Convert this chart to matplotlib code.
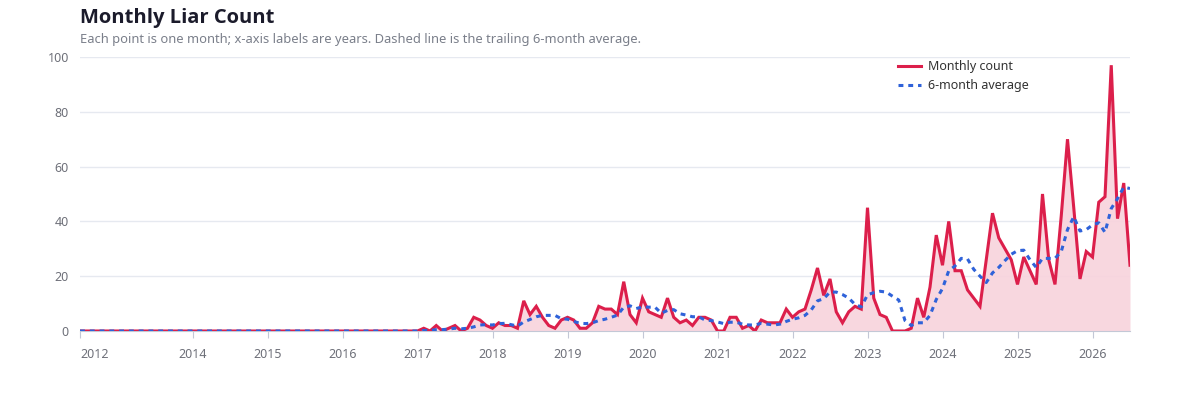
import numpy as np
import matplotlib.pyplot as plt

# meses de 2012-07 ate 2026-07
start_year, start_month = 2012, 7

# contagem mensal (zeros ate dez/2016)
contagem = [0] * 54 + [
    0, 1, 0, 2, 0, 1, 2, 0, 1, 5, 4, 2,          # 2017
    1, 3, 2, 2, 1, 11, 6, 9, 5, 2, 1, 4,         # 2018
    5, 4, 1, 1, 3, 9, 8, 8, 6, 18, 6, 3,         # 2019
    12, 7, 6, 5, 12, 5, 3, 4, 2, 5, 5, 4,        # 2020
    0, 0, 5, 5, 1, 2, 0, 4, 3, 3, 3, 8,          # 2021
    5, 7, 8, 15, 23, 13, 19, 7, 3, 7, 9, 8,      # 2022
    45, 12, 6, 5, 0, 0, 0, 1, 12, 5, 16, 35,     # 2023
    24, 40, 22, 22, 15, 12, 9, 26, 43, 34, 30, 26,  # 2024
    17, 27, 22, 17, 50, 26, 17, 42, 70, 45, 19, 29,  # 2025
    27, 47, 49, 97, 41, 54, 24,                  # 2026
]

# media movel de 6 meses (linha tracejada)
media6 = [0] * 55 + [
    0.2, 0.2, 0.5, 0.5, 0.7, 1.0, 0.8, 1.0, 1.5, 2.2, 2.3,
    2.2, 2.7, 2.8, 2.3, 1.8, 3.3, 4.2, 5.2, 5.7, 5.7, 5.7, 4.5,
    4.3, 3.5, 2.8, 2.7, 3.0, 3.8, 4.3, 5.0, 5.8, 8.7, 9.2, 8.2,
    8.8, 8.7, 8.7, 6.5, 7.5, 7.8, 6.3, 5.8, 5.2, 5.2, 4.0, 3.8,
    3.3, 2.7, 3.2, 3.2, 2.5, 2.2, 2.2, 2.8, 2.5, 2.2, 2.5, 3.5,
    4.3, 4.8, 5.7, 7.7, 11.0, 11.8, 14.2, 14.2, 13.3, 12.0, 9.7, 8.8,
    13.2, 14.0, 14.5, 14.2, 12.7, 11.3, 3.8, 2.0, 3.0, 3.0, 5.7, 11.5,
    15.5, 22.0, 23.7, 26.5, 26.3, 22.5, 20.0, 17.7, 21.2, 23.2, 25.7, 28.0,
    29.3, 29.5, 26.0, 23.2, 26.5, 26.5, 26.5, 29.0, 37.0, 41.7, 36.5, 37.0,
    38.7, 39.5, 36.0, 44.7, 48.3, 52.5, 52.0,
]

anos = list(range(2014, 2027))

vermelho = '#dc1f4b'
azul = '#2f62d9'
cinza = '#6e7079'

plt.rcParams['font.family'] = ['Noto Sans', 'DejaVu Sans']

x = np.arange(len(contagem))
fig = plt.figure(figsize=(12, 4), dpi=100)
ax = fig.add_axes([80 / 1200, 1 - 331 / 400, 1050 / 1200, 274 / 400])

ax.fill_between(x, contagem, color='#f8d3dc', alpha=0.9, lw=0, zorder=1)
ax.plot(x, contagem, color=vermelho, lw=2.2, label='Monthly count', zorder=3,
        solid_joinstyle='miter')
ax.plot(x, media6, color=azul, lw=2.2, ls=(0, (1.6, 1.6)), label='6-month average', zorder=4)

ax.set_xlim(0, len(contagem) - 1)
ax.set_ylim(0, 100)
ax.set_yticks(range(0, 101, 20))
ax.yaxis.grid(True, color='#e6e9f0', lw=1)
ax.set_axisbelow(True)

ticks = [0] + [(a - start_year) * 12 + (1 - start_month) for a in anos]
labels = [str(start_year)] + [str(a) for a in anos]
ax.set_xticks(ticks)
ax.set_xticklabels(labels)
ax.get_xticklabels()[0].set_ha('left')

for s in ['top', 'right', 'left']:
    ax.spines[s].set_visible(False)
ax.spines['bottom'].set_color('#c3c8d6')
ax.tick_params(axis='x', colors='#c3c8d6', length=5, pad=7, labelcolor=cinza, labelsize=9)
ax.tick_params(axis='y', length=0, pad=8, labelcolor=cinza, labelsize=9)

fig.text(80 / 1200, 1 - 18 / 400, 'Monthly Liar Count', fontsize=14.5, fontweight='bold',
         family=['Open Sans', 'DejaVu Sans'], color='#1b1b2b', va='center')
fig.text(80 / 1200, 1 - 40 / 400,
         'Each point is one month; x-axis labels are years. Dashed line is the trailing 6-month average.',
         fontsize=9.3, color='#7a7f8a', va='center')

ax.legend(loc='upper left', bbox_to_anchor=(887 / 1200, 1 - 49 / 400),
          bbox_transform=fig.transFigure, frameon=False, fontsize=9,
          handlelength=1.8, labelspacing=0.5, handletextpad=0.6, labelcolor='#333333')

plt.savefig('out.png')
